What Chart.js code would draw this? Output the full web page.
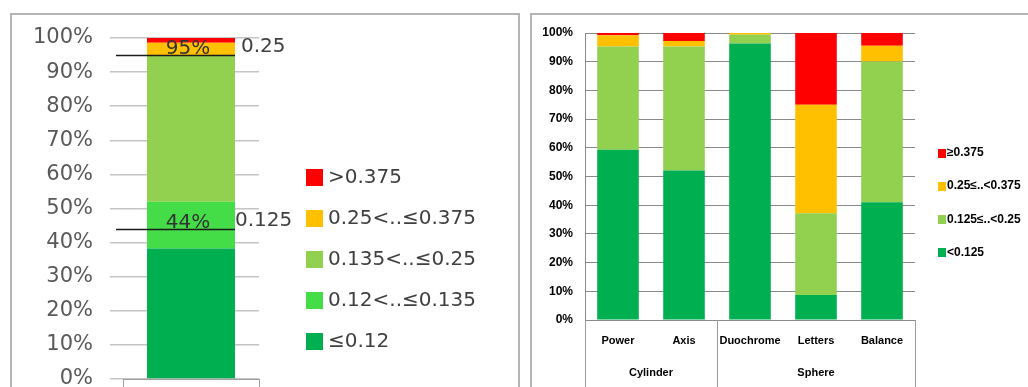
<!DOCTYPE html>
<html>
<head>
<meta charset="utf-8">
<script src="https://cdn.jsdelivr.net/npm/chart.js@4.4.1/dist/chart.umd.min.js"></script>
<style>
  html, body { margin: 0; padding: 0; background: #fff; overflow: hidden; }
  body { width: 1028px; height: 387px; position: relative; }
  .panel { position: absolute; border: 2px solid #b4b4b4; box-sizing: border-box; }
  .box { position: absolute; }
  .legend { position: absolute; }
  .legend .item { position: absolute; left: 0; white-space: nowrap; }
  .legend .sw { position: absolute; left: 0; }
  .legend .tx { position: absolute; }
</style>
</head>
<body>
<div class="panel" style="left:10px; top:13px; width:510px; height:400px;"></div>
<div class="panel" style="left:530px; top:13px; width:520px; height:400px;"></div>

<div class="box" style="left:0; top:0; width:520px; height:420px;"><canvas id="left-chart"></canvas></div>
<div class="box" style="left:530px; top:0; width:498px; height:420px;"><canvas id="right-chart"></canvas></div>

<div class="legend" id="left-legend" style="left:306px; top:0;"></div>
<div class="legend" id="right-legend" style="left:938px; top:0;"></div>

<script>
// ---- left panel data ----
const leftSeries = ['≤0.12', '0.12<..≤0.135', '0.135<..≤0.25', '0.25<..≤0.375', '>0.375'];
const leftValues = [38.3, 13.7, 43.0, 3.6, 1.4];
const leftColors = ['#00b050', '#44dd48', '#92d050', '#ffc000', '#ff0000'];
const markValues = [95, 44];
const markLabels = ['95%', '44%'];
const markNotes = ['0.25', '0.125'];

// ---- right panel data ----
const rightCategories = ['Power', 'Axis', 'Duochrome', 'Letters', 'Balance'];
const groupLabels = ['Cylinder', 'Sphere'];
const groupSizes = [2, 3];
const rightSeries = ['<0.125', '0.125≤..<0.25', '0.25≤..<0.375', '≥0.375'];
const below0125 = [59.3, 52.1, 96.3, 8.7, 41.0];
const from0125 = [36.0, 43.2, 3.1, 28.5, 49.1];
const from025 = [3.9, 1.9, 0.6, 37.8, 5.5];
const above0375 = [0.8, 2.8, 0.0, 25.0, 4.4];
const rightColors = ['#00b050', '#92d050', '#ffc000', '#ff0000'];

const percentTicks = [0, 10, 20, 30, 40, 50, 60, 70, 80, 90, 100];

// Helper: build HTML legend (top item = last series)
function buildLegend(el, names, colors, opts) {
  const n = names.length;
  for (let i = 0; i < n; i++) {
    const idx = n - 1 - i;
    const item = document.createElement('div');
    item.className = 'item';
    item.style.top = (opts.firstY + i * opts.step) + 'px';
    const sw = document.createElement('div');
    sw.className = 'sw';
    sw.style.width = opts.sw + 'px';
    sw.style.height = opts.swh + 'px';
    sw.style.top = (-opts.swh / 2) + 'px';
    sw.style.background = colors[idx];
    const tx = document.createElement('div');
    tx.className = 'tx';
    tx.textContent = names[idx];
    tx.style.left = opts.textX + 'px';
    tx.style.font = opts.font;
    tx.style.color = opts.color;
    tx.style.lineHeight = '1';
    tx.style.top = (-opts.size / 2 - 1) + 'px';
    item.appendChild(sw);
    item.appendChild(tx);
    el.appendChild(item);
  }
}

buildLegend(document.getElementById('left-legend'), leftSeries, leftColors,
  { firstY: 177, step: 41, sw: 17, swh: 17, textX: 22, font: '20px "DejaVu Sans"', size: 20, color: '#404040' });
buildLegend(document.getElementById('right-legend'), rightSeries, rightColors,
  { firstY: 153, step: 33.3, sw: 8, swh: 9, textX: 9, font: 'bold 12px "Liberation Sans"', size: 12, color: '#000' });

// Plugin: reference lines with labels on the left bar
const markerPlugin = {
  id: 'markers',
  afterDatasetsDraw(chart) {
    const ctx = chart.ctx;
    const y = chart.scales.y;
    const bar = chart.getDatasetMeta(0).data[0];
    const barRight = bar.x + bar.width / 2;
    ctx.save();
    markValues.forEach((v, i) => {
      const py = Math.round(y.getPixelForValue(v)) + 0.5;
      ctx.strokeStyle = '#1a1a1a';
      ctx.lineWidth = 1.5;
      ctx.beginPath();
      ctx.moveTo(chart.chartArea.left - 7, py);
      ctx.lineTo(barRight, py);
      ctx.stroke();
      ctx.font = '20px "DejaVu Sans"';
      ctx.textBaseline = 'middle';
      ctx.fillStyle = '#333';
      ctx.textAlign = 'center';
      ctx.fillText(markLabels[i], bar.x - 3, py - 7);
      ctx.fillStyle = '#404040';
      ctx.textAlign = 'left';
      ctx.fillText(markNotes[i], barRight + (i === 0 ? 6 : 0), py - 9);
    });
    ctx.restore();
  }
};

// Plugin: two-level category axis (group labels + separators)
const groupAxisPlugin = {
  id: 'groupAxis',
  afterDraw(chart) {
    const ctx = chart.ctx;
    const x = chart.scales.x;
    const area = chart.chartArea;
    const half = (x.getPixelForValue(1) - x.getPixelForValue(0)) / 2;
    ctx.save();
    ctx.strokeStyle = '#9a9a9a';
    ctx.lineWidth = 1;
    let start = 0;
    const edges = [x.getPixelForValue(0) - half];
    groupSizes.forEach((size, g) => {
      const end = start + size - 1;
      const left = x.getPixelForValue(start) - half;
      const right = x.getPixelForValue(end) + half;
      edges.push(right);
      ctx.font = 'bold 11px "Liberation Sans"';
      ctx.fillStyle = '#000';
      ctx.textAlign = 'center';
      ctx.textBaseline = 'middle';
      ctx.fillText(groupLabels[g], (left + right) / 2, area.bottom + 53);
      start += size;
    });
    edges.forEach(px => {
      const xx = Math.round(px) + 0.5;
      ctx.beginPath();
      ctx.moveTo(xx, area.bottom);
      ctx.lineTo(xx, chart.height);
      ctx.stroke();
    });
    ctx.restore();
  }
};

// ---- left chart ----
new Chart(document.getElementById('left-chart'), {
  type: 'bar',
  data: {
    labels: [''],
    datasets: leftSeries.map((name, i) => ({
      label: name,
      data: [leftValues[i]],
      backgroundColor: leftColors[i],
      borderWidth: 0,
      barPercentage: 0.647,
      categoryPercentage: 1
    }))
  },
  options: {
    responsive: true,
    maintainAspectRatio: false,
    animation: false,
    layout: { padding: { top: 38, right: 261, bottom: 21, left: 0 } },
    plugins: { legend: { display: false }, tooltip: { enabled: false } },
    scales: {
      x: {
        stacked: true,
        afterFit: s => { s.height = 20; },
        ticks: { display: false },
        grid: { offset: true, drawOnChartArea: false, drawTicks: true, tickLength: 8, color: '#a0a0a0' },
        border: { display: true, color: '#a0a0a0', width: 1 }
      },
      y: {
        stacked: true,
        min: 0,
        max: 100,
        afterFit: s => { s.width = 123; },
        afterBuildTicks: s => { s.ticks = percentTicks.map(v => ({ value: v })); },
        ticks: {
          padding: 17,
          color: '#595959',
          font: { family: 'DejaVu Sans', size: 21 },
          callback: v => v + '%'
        },
        grid: { color: '#c4c4c4', lineWidth: 1.5, drawTicks: true, tickLength: 13 },
        border: { display: false }
      }
    }
  },
  plugins: [markerPlugin]
});

// ---- right chart ----
new Chart(document.getElementById('right-chart'), {
  type: 'bar',
  data: {
    labels: rightCategories,
    datasets: [below0125, from0125, from025, above0375].map((vals, i) => ({
      label: rightSeries[i],
      data: vals,
      backgroundColor: rightColors[i],
      borderWidth: 0,
      barPercentage: 0.63,
      categoryPercentage: 1
    }))
  },
  options: {
    responsive: true,
    maintainAspectRatio: false,
    animation: false,
    layout: { padding: { top: 33, right: 113, bottom: 40, left: 0 } },
    plugins: { legend: { display: false }, tooltip: { enabled: false } },
    scales: {
      x: {
        stacked: true,
        afterFit: s => { s.height = 60; },
        ticks: {
          padding: 14,
          color: '#000',
          maxRotation: 0,
          font: { family: 'Liberation Sans', size: 11, weight: 'bold' }
        },
        grid: { display: false, drawTicks: false },
        border: { display: true, color: '#8a8a8a', width: 1 }
      },
      y: {
        stacked: true,
        min: 0,
        max: 100,
        afterFit: s => { s.width = 55; },
        afterBuildTicks: s => { s.ticks = percentTicks.map(v => ({ value: v })); },
        ticks: {
          padding: 12,
          color: '#000',
          font: { family: 'Liberation Sans', size: 12, weight: 'bold' },
          callback: v => v + '%'
        },
        grid: { color: '#8a8a8a', lineWidth: 1, drawTicks: false },
        border: { display: true, color: '#8a8a8a', width: 1 }
      }
    }
  },
  plugins: [groupAxisPlugin]
});
</script>
</body>
</html>
